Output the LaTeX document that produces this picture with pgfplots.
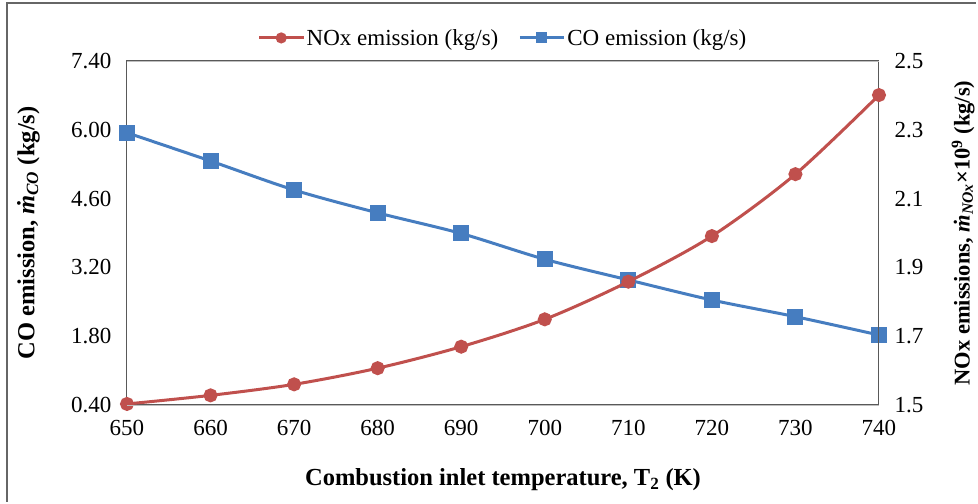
\documentclass[border=0pt]{standalone}
\usepackage{pgfplots}
\pgfplotsset{compat=1.18}
\usepackage{fontspec}
\setmainfont{Liberation Serif}
\definecolor{nored}{RGB}{192,80,77}
\definecolor{coblue}{RGB}{70,125,192}
\begin{document}
\begin{tikzpicture}[font=\fontsize{20}{24}\selectfont]
\pgfplotsset{
  every axis/.append style={
    width=752pt, height=344pt, scale only axis,
    xmin=650, xmax=740,
    xtick={650,660,...,740},
    major tick length=0pt,
    /pgf/number format/assume math mode=true,
    tick label style={font=\fontsize{23}{26}\selectfont},
    label style={font=\bfseries\fontsize{24.5}{28}\selectfont},
  }
}
\begin{axis}[
  name=ax,
  ymin=0.4, ymax=7.4,
  ytick={0.4,1.8,3.2,4.6,6.0,7.4},
  yticklabel style={/pgf/number format/fixed, /pgf/number format/fixed zerofill, /pgf/number format/precision=2},
  axis line style={black!65, line width=1pt},
  x tick label style={yshift=-12pt},
  y tick label style={xshift=-12pt},
  xlabel={Combustion inlet temperature, T\textsubscript{2} (K)},
  xlabel style={at={(axis description cs:0.5,-0.218)}, anchor=center},
  ylabel={CO emission, \textit{\.m}\textsubscript{\textit{CO}} (kg/s)},
  ylabel style={at={(axis description cs:-0.131,0.5)}, anchor=center, rotate=0},
]
\addplot[coblue, line width=3pt, smooth, mark=square*, mark size=6.5pt, mark options={solid}] coordinates {
(650,5.94) (660,5.365) (670,4.775) (680,4.31) (690,3.89)
(700,3.365) (710,2.945) (720,2.536) (730,2.197) (740,1.824)
};
\end{axis}
\begin{axis}[
  ymin=1.5, ymax=2.5,
  ytick={1.5,1.7,...,2.5},
  yticklabel style={/pgf/number format/fixed, /pgf/number format/fixed zerofill, /pgf/number format/precision=1},
  axis y line*=right,
  axis x line=none,
  axis line style={black!65, line width=1pt},
  y tick label style={xshift=12pt},
  ylabel={NOx emissions, \textit{\.m}\textsubscript{\textit{NOx}}\texttimes10\textsuperscript{9} (kg/s)},
  ylabel style={at={(axis description cs:1.112,0.5)}, anchor=center, rotate=0, font=\bfseries\fontsize{22.5}{26}\selectfont},
  legend style={at={(axis description cs:0.5,1.067)}, anchor=center, draw=none, fill=none,
    legend columns=2, font=\fontsize{23}{26}\selectfont,
    /tikz/every even column/.append style={column sep=18pt}},
  legend cell align=left,
  legend image post style={mark size=4pt},
  legend image code/.code={\draw[mark repeat=2,mark phase=2] plot coordinates {(0pt,0pt) (22pt,0pt) (44pt,0pt)};},
]
\addplot[nored, line width=3pt, smooth, mark=*, mark size=5.5pt] coordinates {
(650,1.503) (660,1.528) (670,1.560) (680,1.607) (690,1.6695)
(700,1.749) (710,1.8585) (720,1.991) (730,2.171) (740,2.401)
};
\addlegendentry{NOx emission (kg/s)}
\addlegendimage{coblue, line width=3pt, mark=square*}
\addlegendentry{CO emission (kg/s)}
\end{axis}
\draw[black!25, line width=0.8pt] (ax.south west) -- (ax.south east);
\draw[black!25, line width=0.8pt] (ax.north west) -- (ax.north east);
\path ([shift={(-127pt,-99pt)}]ax.south west) rectangle ([shift={(99pt,61pt)}]ax.north east);
\draw[black!60, line width=2pt] ([shift={(-120pt,-97pt)}]ax.south west) -- ([shift={(-120pt,58pt)}]ax.north west) -- ([shift={(97pt,58pt)}]ax.north east);
\end{tikzpicture}
\end{document}
